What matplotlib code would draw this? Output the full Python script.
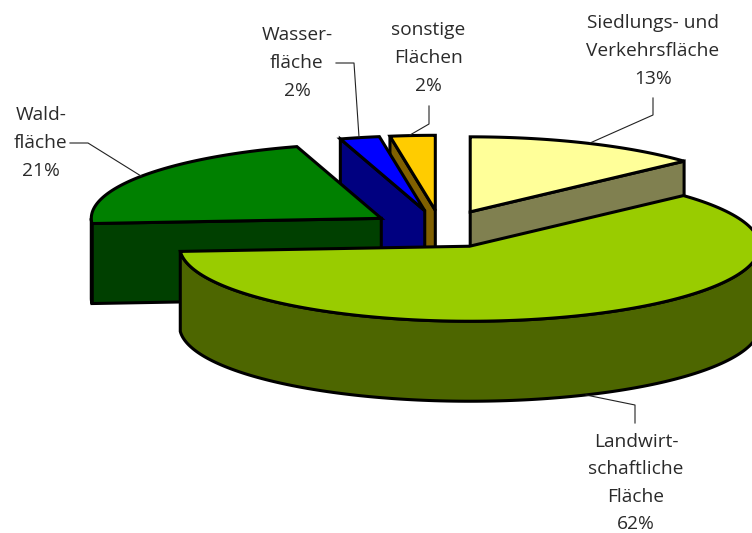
import numpy as np
import matplotlib
matplotlib.use("Agg")
import matplotlib.pyplot as plt
from matplotlib.patches import Polygon

# -----------------------------
# Data
# -----------------------------

categories = ["Siedlung", "Landwirtschaft", "Wald", "Wasser", "Sonstige"]
# shares (labels show the rounded numbers)
shares = [13.2, 60.7, 21.4, 2.2, 2.5]
top_colors = ["#FFFF99", "#99CC00", "#008000", "#0000FF", "#FFCC00"]
side_colors = ["#808050", "#4D6600", "#004000", "#000080", "#806000"]

label_texts = [
    "Siedlungs- und\nVerkehrsfläche\n13%",
    "Landwirt-\nschaftliche\nFläche\n62%",
    "Wald-\nfläche\n21%",
    "Wasser-\nfläche\n2%",
    "sonstige\nFlächen\n2%",
]

# -----------------------------
# Pie geometry (pixels)
# -----------------------------

cx, cy = 441.0, 229.0
rx, ry = 290.0, 75.0
depth = 80.0
explode = 0.25
draw_order = [0, 4, 3, 2, 1]

label_pos = [(653, 51), (636, 483), (41, 143), (297, 63), (428, 58)]
leader_lines = [
    [(653, 98), (653, 115), (590, 143)],
    [(635, 423), (635, 405), (586, 395)],
    [(70, 143), (88, 143), (141, 176)],
    [(336, 63), (354, 63), (359, 137)],
    [(429, 106), (429, 124), (410, 135)],
]

plt.rcParams["font.family"] = ["Open Sans", "DejaVu Sans"]

fig = plt.figure(figsize=(7.52, 5.33), dpi=100)
ax = fig.add_axes([0, 0, 1, 1])
ax.set_xlim(0, 752)
ax.set_ylim(533, 0)
ax.axis("off")


def rim(x0, y0, a, b):
    t = np.radians(np.linspace(a, b, 150))
    return np.column_stack([x0 + rx * np.sin(t), y0 - ry * np.cos(t)])


def add_face(points, color):
    ax.add_patch(Polygon(points, closed=True, facecolor=color, edgecolor="black",
                         linewidth=2.2, joinstyle="miter"))


# -----------------------------
# Slices
# -----------------------------

edges = np.concatenate([[0], np.cumsum(shares)]) / sum(shares) * 360

for i in draw_order:
    a, b = edges[i], edges[i + 1]
    mid = np.radians((a + b) / 2)
    x0 = cx + explode * rx * np.sin(mid)
    y0 = cy - explode * ry * np.cos(mid)
    apex = np.array([x0, y0])
    down = np.array([0, depth])

    # cut faces turned towards the viewer
    if np.sin(np.radians(a)) < -1e-6:
        p = rim(x0, y0, a, a)[0]
        add_face([apex, p, p + down, apex + down], side_colors[i])
    if np.sin(np.radians(b)) > 1e-6:
        p = rim(x0, y0, b, b)[0]
        add_face([apex, p, p + down, apex + down], side_colors[i])

    # outer wall, front half only
    lo, hi = max(a, 90), min(b, 270)
    if hi > lo:
        arc = rim(x0, y0, lo, hi)
        add_face(np.vstack([arc, arc[::-1] + down]), side_colors[i])

    add_face(np.vstack([apex, rim(x0, y0, a, b)]), top_colors[i])

# -----------------------------
# Labels
# -----------------------------

for text, pos, line in zip(label_texts, label_pos, leader_lines):
    ax.text(pos[0], pos[1], text, ha="center", va="center", fontsize=13.8,
            color="#2a2a2a", linespacing=1.68)
    xs, ys = zip(*line)
    ax.plot(xs, ys, color="#222222", linewidth=0.8)

fig.savefig("out.png", dpi=100)
